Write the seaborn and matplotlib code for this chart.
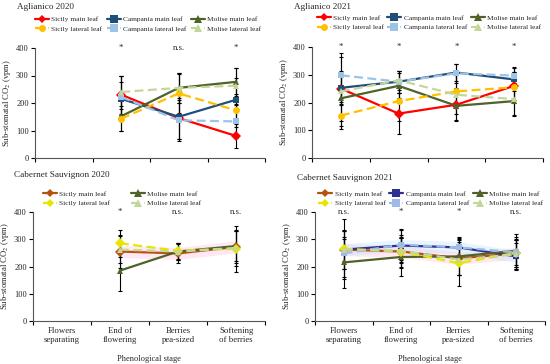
import matplotlib
matplotlib.use("Agg")
import matplotlib.pyplot as plt
import seaborn as sns
import pandas as pd
import numpy as np

# phenological stages (x categories)
stages = ["Flowers\nseparating", "End of\nflowering", "Berries\npea-sized", "Softening\nof berries"]

# Aglianico 2020 (no data at first stage)
ag20_stages = [1, 2, 3]
ag20 = {
    "Sicily main leaf":      ([230, 145, 80],  [70, 75, 45]),
    "Campania main leaf":    ([215, 150, 212], [60, 80, 80]),
    "Molise main leaf":      ([152, 255, 277], [55, 55, 50]),
    "Sicily lateral leaf":   ([143, 235, 173], [45, 70, 60]),
    "Campania lateral leaf": ([222, 137, 133], [75, 75, 60]),
    "Molise lateral leaf":   ([240, 255, 263], [60, 55, 65]),
}
ag20_sig = ["*", "n.s.", "*"]

# Aglianico 2021
ag21_stages = [0, 1, 2, 3]
ag21 = {
    "Sicily main leaf":      ([250, 160, 192, 260], [60, 75, 60, 50]),
    "Campania main leaf":    ([253, 275, 308, 283], [60, 40, 30, 40]),
    "Molise main leaf":      ([215, 260, 188, 205], [80, 45, 50, 50]),
    "Sicily lateral leaf":   ([153, 205, 240, 255], [50, 70, 60, 55]),
    "Campania lateral leaf": ([298, 275, 305, 297], [80, 40, 35, 30]),
    "Molise lateral leaf":   ([240, 280, 228, 212], [125, 35, 70, 60]),
}
ag21_sig = ["*", "*", "*", "*"]

# Cabernet Sauvignon 2020
cs20_stages = [1, 2, 3]
cs20 = {
    "Sicily main leaf":    ([255, 248, 272], [60, 35, 60]),
    "Molise main leaf":    ([185, 255, 275], [75, 30, 55]),
    "Sicily lateral leaf": ([285, 258, 265], [50, 30, 85]),
    "Molise lateral leaf": ([262, 255, 268], [50, 30, 65]),
}
cs20_sig = ["*", "n.s.", "n.s."]

# Cabernet Sauvignon 2021
cs21_stages = [0, 1, 2, 3]
cs21 = {
    "Sicily main leaf":      ([262, 255, 230, 248], [70, 60, 60, 50]),
    "Campania main leaf":    ([262, 277, 270, 237], [40, 60, 30, 50]),
    "Molise main leaf":      ([215, 235, 237, 258], [95, 70, 70, 60]),
    "Sicily lateral leaf":   ([265, 255, 212, 250], [110, 55, 85, 60]),
    "Campania lateral leaf": ([248, 280, 270, 252], [85, 55, 35, 45]),
    "Molise lateral leaf":   ([262, 258, 225, 245], [70, 45, 55, 55]),
}
cs21_sig = ["n.s.", "*", "*", "n.s."]

style_ag = {
    "Sicily main leaf":      ("#ff0000", "-", "D", 3),
    "Campania main leaf":    ("#1f4e79", "-", "s", 5),
    "Molise main leaf":      ("#4f6228", "-", "^", 5),
    "Sicily lateral leaf":   ("#ffc000", "--", "o", 4),
    "Campania lateral leaf": ("#9dc3e6", "--", "s", 5),
    "Molise lateral leaf":   ("#c4d79b", "--", "^", 5),
}
style_cs = {
    "Sicily main leaf":      ("#b5520f", "-", "D", 3),
    "Campania main leaf":    ("#2e3192", "-", "s", 5),
    "Molise main leaf":      ("#4f6228", "-", "^", 5),
    "Sicily lateral leaf":   ("#e6e600", "--", "D", 3),
    "Campania lateral leaf": ("#9dbbe6", "--", "s", 5),
    "Molise lateral leaf":   ("#c4d79b", "--", "^", 5),
}

sns.set_theme(style="white")
plt.rcParams["font.family"] = ["Liberation Serif", "DejaVu Serif"]
plt.rcParams["mathtext.fontset"] = "stix"

W, H = 550, 364
fig = plt.figure(figsize=(W / 100, H / 100), dpi=100)


def px_axes(l, t, r, b):
    return fig.add_axes([l / W, 1 - b / H, (r - l) / W, (b - t) / H])


def panel(ax, data, xs, sig, styles, title, bottom, leg_xy, title_y, ncol=3, colsp=0.6, glow=None):
    rows = []
    for name, (vals, errs) in data.items():
        for x, v, e in zip(xs, vals, errs):
            rows.append({"x": x + 0.5, "y": v, "err": e, "series": name})
    df = pd.DataFrame(rows)
    # error bars first (black with caps)
    for name, sub in df.groupby("series", sort=False):
        ax.errorbar(sub["x"], sub["y"], yerr=sub["err"], fmt="none", ecolor="black",
                    elinewidth=0.8, capsize=1.5, capthick=0.8, zorder=2)
    if glow:
        for name, col in glow.items():
            sub = df[df["series"] == name]
            ax.fill_between(sub["x"], sub["y"] - 22, sub["y"] + 22, color=col,
                            alpha=0.3, lw=0, zorder=1)
    order = list(data.keys())
    palette = {k: styles[k][0] for k in order}
    dashes = {k: ((4, 2) if styles[k][1] == "--" else "") for k in order}
    markers = {k: styles[k][2] for k in order}
    sns.lineplot(data=df, x="x", y="y", hue="series", style="series", hue_order=order,
                 style_order=order, palette=palette, dashes=dashes, markers=markers,
                 markersize=5, markeredgewidth=0, linewidth=1.6, ax=ax, zorder=3,
                 legend=True)
    for ln in ax.get_lines():
        lab = ln.get_label()
        if lab in styles:
            ln.set_markersize(styles[lab][3] + 1)
    handles, labels = ax.get_legend_handles_labels()
    hmap = dict(zip(labels, handles))
    names = [n for n in ["Sicily main leaf", "Sicily lateral leaf", "Campania main leaf",
                         "Campania lateral leaf", "Molise main leaf", "Molise lateral leaf"]
             if n in hmap]
    ax.legend([hmap[n] for n in names], names, ncol=ncol, loc="center left",
              bbox_to_anchor=leg_xy, frameon=False,
              fontsize=5.3, handlelength=1.9, handletextpad=0.3, columnspacing=colsp,
              labelspacing=0.45, borderaxespad=0.0, borderpad=0.0)
    for x, s in zip(xs, sig):
        ax.text(x + 0.5, 400, s, ha="center", va="center", fontsize=6.3)
    ax.set_xlim(0, 4)
    ax.set_ylim(0, 400)
    ax.set_yticks([0, 100, 200, 300, 400])
    ax.set_xticks([0, 1, 2, 3, 4])
    ax.set_xticklabels([])
    ax.tick_params(axis="both", which="major", direction="out", length=3, width=0.8,
                   labelsize=6, pad=1.5, left=True, bottom=True, color="black")
    if bottom:
        ax.set_xticks([0.5, 1.5, 2.5, 3.5], minor=True)
        ax.set_xticklabels(stages, minor=True, fontsize=6.3)
        ax.tick_params(axis="x", which="minor", length=0, pad=4)
        ax.set_xlabel("Phenological stage", fontsize=6, labelpad=8)
    else:
        ax.set_xlabel("")
    ax.set_ylabel("Sub-stomatal CO$_2$ (vpm)", fontsize=6.2, labelpad=2)
    for sp in ["top", "right"]:
        ax.spines[sp].set_visible(False)
    for sp in ["left", "bottom"]:
        ax.spines[sp].set_color("#555555")
        ax.spines[sp].set_linewidth(0.8)
    ax.text(-0.08, title_y, title, transform=ax.transAxes, fontsize=6.6, ha="left", va="center")


ax1 = px_axes(35, 48, 265, 158)
panel(ax1, ag20, ag20_stages, ag20_sig, style_ag, "Aglianico 2020", False,
      leg_xy=(0.0, 1.22), title_y=1.37)
ax2 = px_axes(312, 47, 543, 158)
panel(ax2, ag21, ag21_stages, ag21_sig, style_ag, "Aglianico 2021", False,
      leg_xy=(0.02, 1.22), title_y=1.36, colsp=0.5)
ax3 = px_axes(33, 212, 265, 321)
panel(ax3, cs20, cs20_stages, cs20_sig, style_cs, "Cabernet Sauvignon 2020", True,
      leg_xy=(0.043, 1.125), title_y=1.34, ncol=2, colsp=2.8,
      glow={"Sicily main leaf": "#ffb3d9"})
ax4 = px_axes(315, 212, 545, 321)
panel(ax4, cs21, cs21_stages, cs21_sig, style_cs, "Cabernet Sauvignon 2021", True,
      leg_xy=(0.015, 1.125), title_y=1.31, colsp=0.5,
      glow={"Sicily main leaf": "#ffb3d9", "Campania main leaf": "#b3e0ff"})

fig.savefig("out.png", dpi=100)
